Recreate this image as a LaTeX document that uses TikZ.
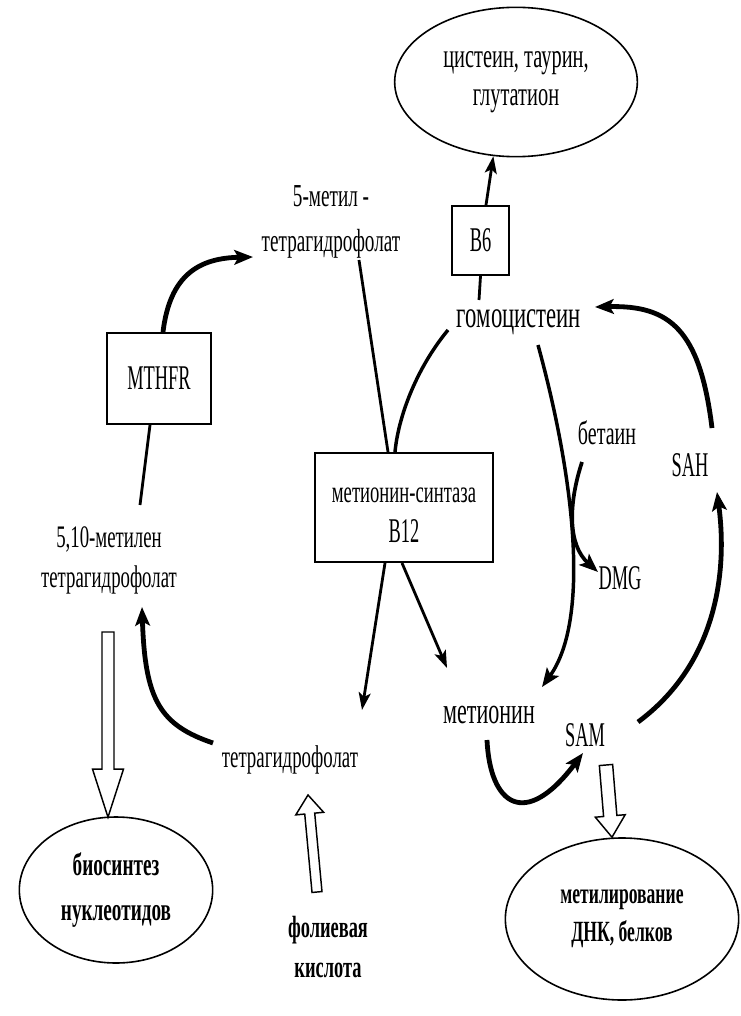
\documentclass[tikz,border=0pt]{standalone}
\usepackage{fontspec}
\setmainfont{Liberation Serif}[FakeStretch=0.6]
\newfontfamily\latinf{Liberation Serif}[FakeStretch=0.53]
\usetikzlibrary{shapes.geometric,arrows.meta,calc}
\newcommand\hollowarrow[5]{%
  \coordinate (hh) at ($(#2)!#5!(#1)$);
  \draw[hollow] ($(#1)!#3!90:(#2)$) -- ($(hh)!#3!90:(#2)$) -- ($(hh)!#4!90:(#2)$) -- (#2)
     -- ($(hh)!#4!-90:(#2)$) -- ($(hh)!#3!-90:(#2)$) -- ($(#1)!#3!-90:(#2)$) -- cycle;}
\begin{document}
\begin{tikzpicture}[x=0.75pt,y=-0.75pt,
  lbl/.style={inner sep=0pt, align=center, font=\fontsize{#1}{30}\selectfont},
  boldlbl/.style={inner sep=0pt, align=center, font=\fontsize{#1}{30}\selectfont\bfseries},
  latin/.style={inner sep=0pt, align=center, font=\latinf\fontsize{26}{30}\selectfont},
  boxn/.style={draw, line width=1.5pt, rectangle, inner sep=0pt},
  ell/.style={draw, line width=1.2pt, ellipse, inner sep=0pt, align=center},
  plain/.style={line width=2.1pt},
  plainarr/.style={line width=2.1pt, -{Stealth[length=13pt,width=9pt,inset=3pt]}},
  thickarr/.style={line width=3.6pt, -{Stealth[length=14pt,width=11pt,inset=3pt]}},
  hollow/.style={draw, line width=1.1pt, fill=white, line join=miter}
]
\fill[white] (0,0) rectangle (740,1016);
\useasboundingbox (0,0) rectangle (740,1016);

% nodes
\node[ell, font=\fontsize{25.5}{28.5}\selectfont, minimum width=182pt, minimum height=112pt] (ell1) at (516,82) {цистеин, таурин,\\глутатион};
\node[boxn, latin, minimum width=42.75pt, minimum height=51.75pt] (b6) at (480.5,240.5) {B6};
\node[lbl=24] (n5m) at (331,222) {5-метил -\\[3.75pt]тетрагидрофолат};
\node[lbl=28.4] (homo) at (519,322) {гомоцистеин};
\node[boxn, latin, minimum width=78pt, minimum height=68.25pt] (mthfr) at (159,378.5) {MTHFR};
\node[boxn, minimum width=133.5pt, minimum height=81.75pt] (b12) at (404,507.5) {};
\node[lbl=23.3] (b12t) at (404,515) {метионин-синтаза\\{\latinf\fontsize{26}{30}\selectfont B12}};
\node[lbl=23.5] (mth) at (109,560) {5,10-метилен\\тетрагидрофолат};
\node[lbl=23.6] (thf) at (290,760) {тетрагидрофолат};
\node[boldlbl=23] (fol) at (328,947) {фолиевая\\кислота};
\node[lbl=25] (bet) at (607,433) {бетаин};
\node[latin] (dmg) at (620,578) {DMG};
\node[latin] (sah) at (690,465) {SAH};
\node[lbl=27.6] (met) at (489,715) {метионин};
\node[latin] (sam) at (585,735) {SAM};
\node[ell, font=\fontsize{24}{30}\selectfont\bfseries, minimum width=145pt, minimum height=109.5pt] (ell2) at (116,890) {биосинтез\\[3.75pt]нуклеотидов};
\node[ell, font=\fontsize{22}{28.5}\selectfont\bfseries, minimum width=175pt, minimum height=121.5pt] (ell3) at (622,919) {метилирование\\ДНК, белков};

% connectors
\draw[plainarr] ($(b6.north)+(5.5,0)$) -- (ell1.253);
\draw[plain] (b6.south) -- ($(homo)+(-40,-22)$);
\draw[thickarr] ($(mthfr.north)+(4,0)$) .. controls ($(mthfr.north)+(11,-58)$) and ($(n5m)+(-131,36)$) .. ($(n5m)+(-78,35)$);
\draw[plain] ($(mthfr.south)+(-9,0)$) -- ($(mth)+(31,-55)$);
\draw[plain] ($(n5m)+(28,38)$) -- ($(b12.north)+(-16,0)$);
\draw[line width=2.6pt] ($(homo)+(-71,8)$) .. controls ($(homo)+(-104,48)$) and ($(b12.north)+(-6,-33)$) .. ($(b12.north)+(-9,0)$);
\draw[plainarr] ($(b12.south)+(-19,0)$) -- ($(thf)+(72,-50)$);
\draw[plainarr] ($(b12.south)+(-2,0)$) -- ($(met)+(-42,-47)$);
\draw[thickarr] ($(thf)+(-77,-17)$) .. controls ($(thf)+(-130,-35)$) and ($(mth)+(36,140)$) .. ($(mth)+(33,47)$);
\draw[thickarr] ($(met)+(-2,25)$) .. controls ($(met)+(1,90)$) and ($(sam)+(-60,95)$) .. ($(sam)+(-2,18)$);
\draw[line width=2.6pt, -{Stealth[length=14pt,width=11pt,inset=3pt]}] ($(homo)+(19,23)$) .. controls ($(homo)+(56,158)$) and ($(met)+(101,-95)$) .. ($(met)+(53,-28)$);
\draw[line width=2.8pt, -{Stealth[length=14pt,width=11pt,inset=3pt]}] ($(bet)+(-25,29)$) .. controls ($(bet)+(-39,72)$) and ($(dmg)+(-52,-33)$) .. ($(dmg)+(-22,-6)$);
\draw[thickarr] ($(sam)+(53,-13)$) .. controls ($(sam)+(130,-70)$) and ($(sah)+(38,110)$) .. ($(sah)+(27,27)$);
\draw[thickarr] ($(sah)+(22,-37)$) .. controls ($(sah)+(10,-135)$) and ($(homo)+(151,-17)$) .. ($(homo)+(76,-15)$);

% hollow arrows
\coordinate (nt) at ($(mth)+(-1,72)$);
\coordinate (nh) at ($(ell2.north)+(-8,1)$);
\hollowarrow{nt}{nh}{4.5pt}{11.6pt}{36pt}
\coordinate (ft) at ($(fol)+(-11,-55)$);
\coordinate (fh) at ($(thf)+(18,35)$);
\hollowarrow{ft}{fh}{3.75pt}{10.5pt}{14pt}
\coordinate (st) at ($(sam)+(21,30)$);
\coordinate (sh) at ($(ell3.north)+(-10,0)$);
\hollowarrow{st}{sh}{5pt}{11.25pt}{16pt}
\end{tikzpicture}
\end{document}
